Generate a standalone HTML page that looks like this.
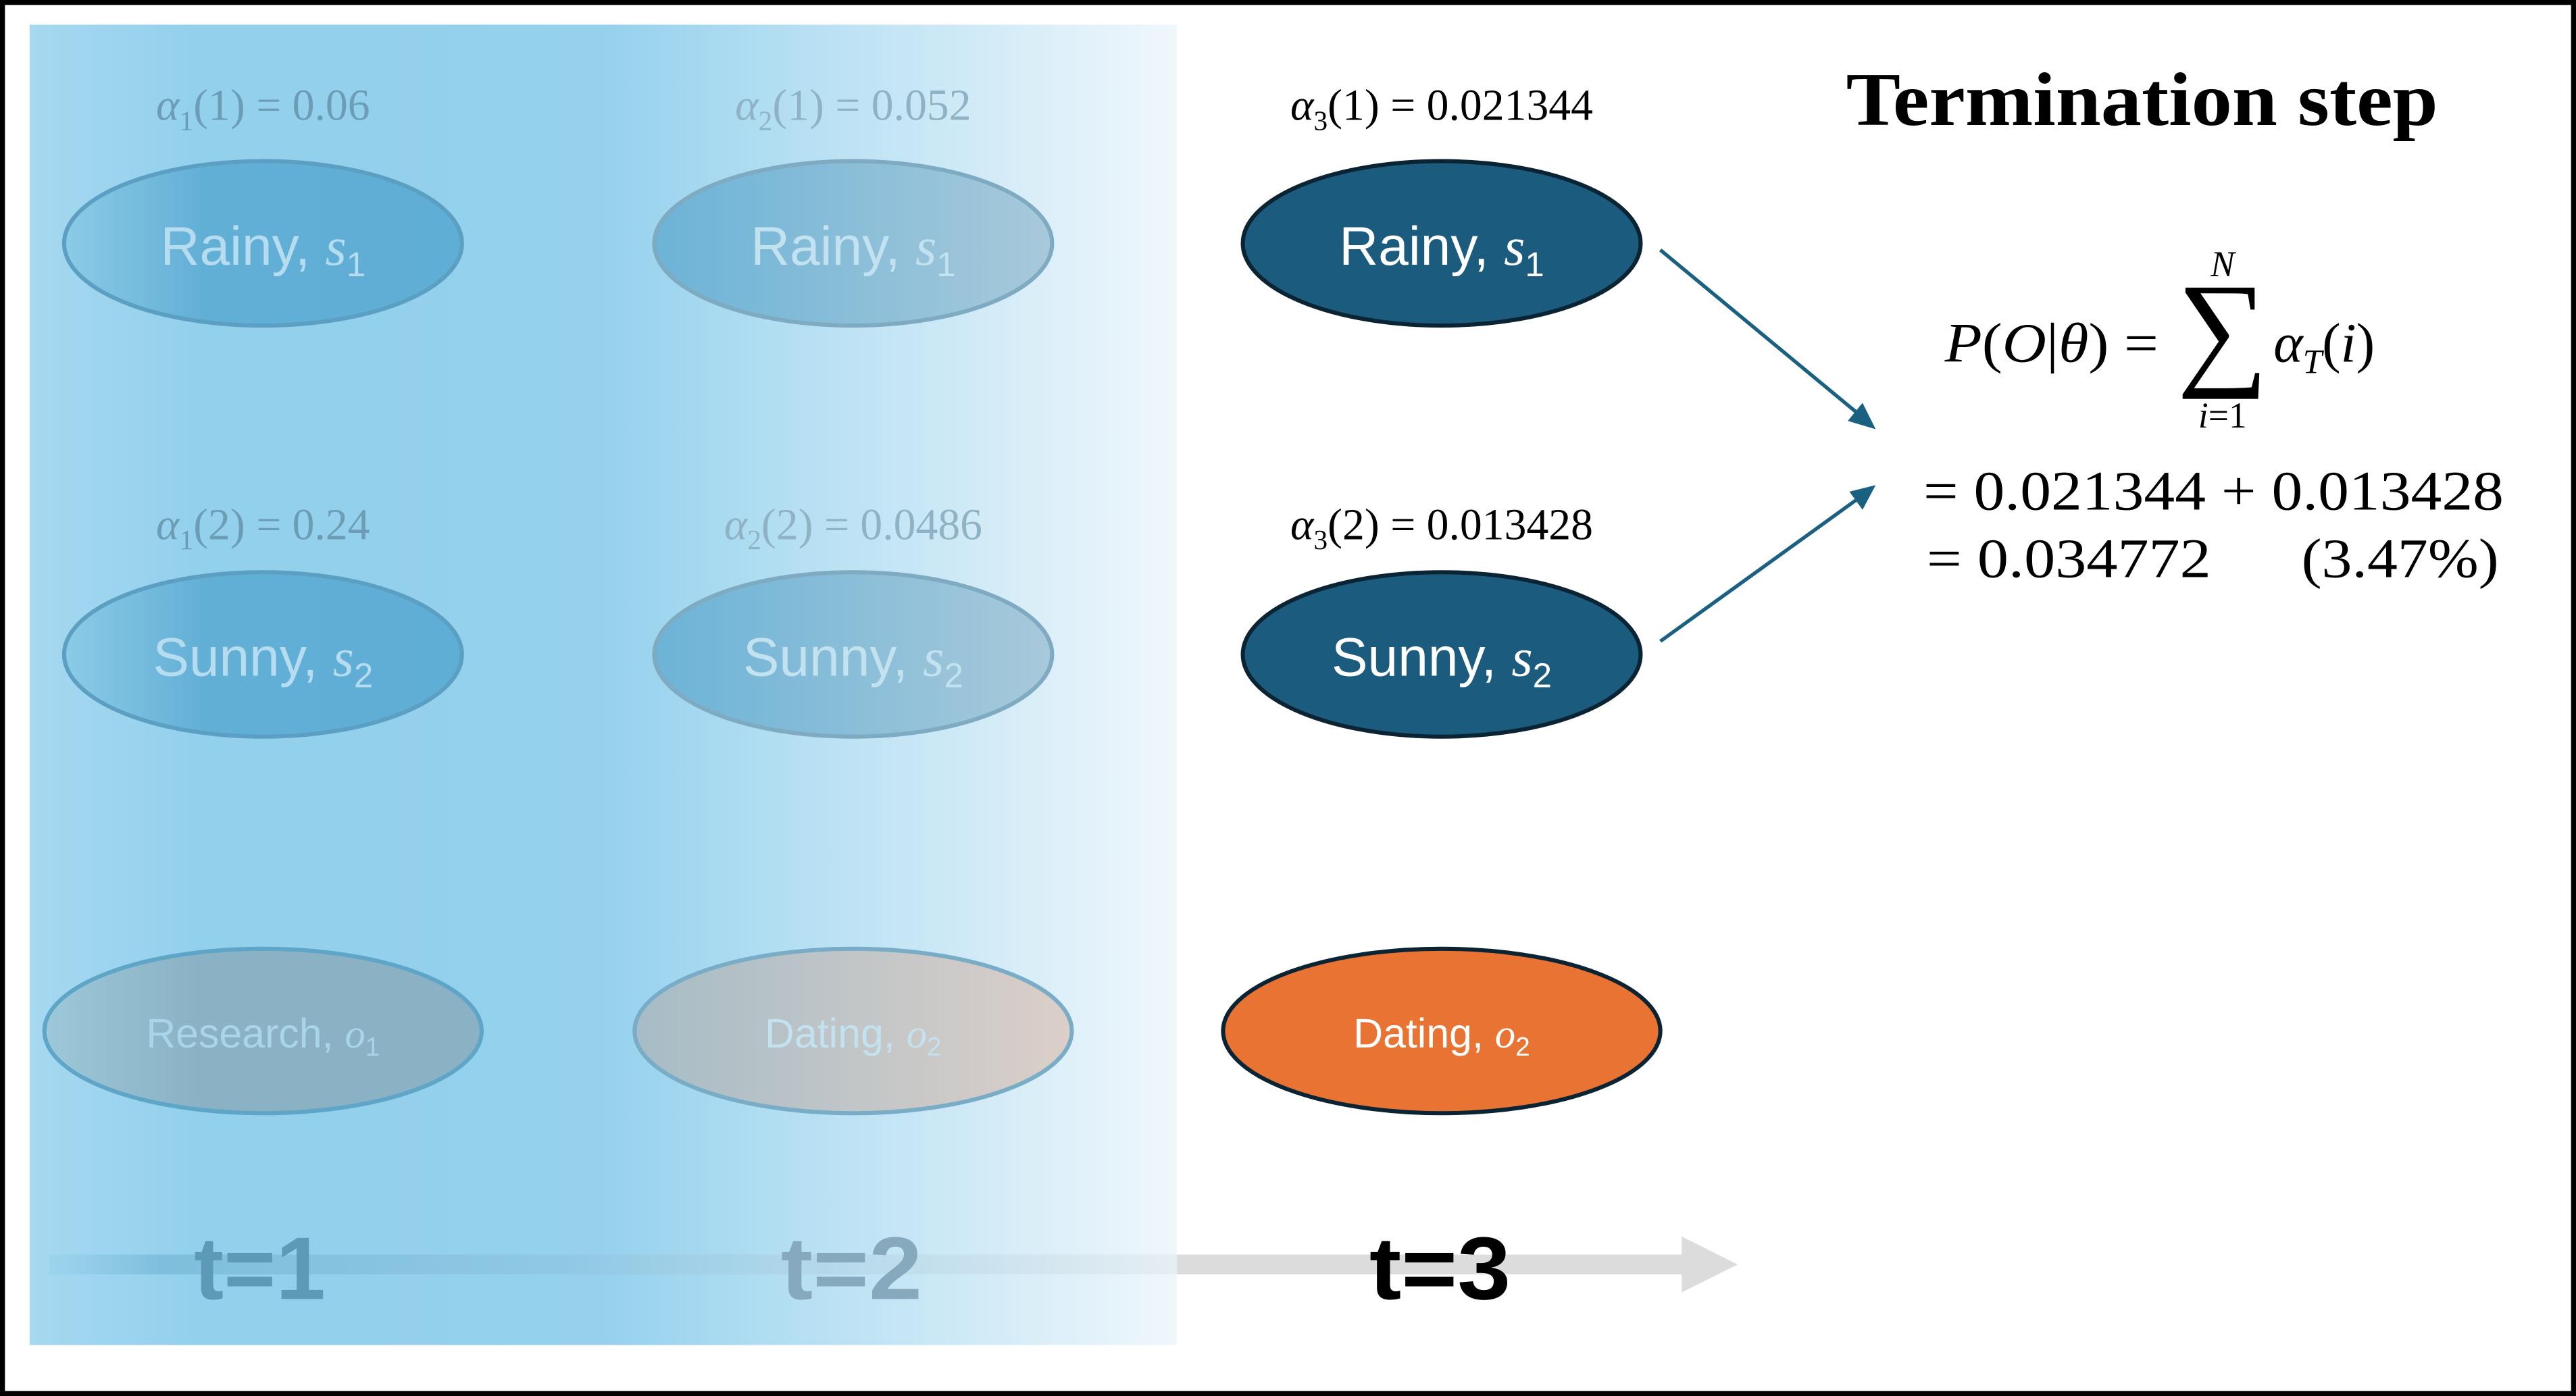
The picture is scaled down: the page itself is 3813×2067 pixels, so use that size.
<!DOCTYPE html>
<html><head><meta charset="utf-8"><style>
html,body{margin:0;padding:0;background:#fff;}
svg{display:block;}
.sans{font-family:"Liberation Sans","DejaVu Sans",sans-serif;}
.serif{font-family:"Liberation Serif","DejaVu Serif",serif;}
</style></head><body>
<svg width="3813" height="2067" viewBox="0 0 1567 849" preserveAspectRatio="none" xmlns="http://www.w3.org/2000/svg">
<defs>
<linearGradient id="bg" x1="0" x2="1" y1="0" y2="0">
<stop offset="0" stop-color="#a6d8f0"/><stop offset="0.15" stop-color="#92d0ec"/>
<stop offset="0.5" stop-color="#95d1ed"/><stop offset="0.65" stop-color="#b2def2"/>
<stop offset="1" stop-color="#f0f7fc"/></linearGradient>
<linearGradient id="e1" x1="0" x2="1"><stop offset="0" stop-color="#8ccbe6"/><stop offset="0.35" stop-color="#62afd6"/><stop offset="1" stop-color="#5faed5"/></linearGradient>
<linearGradient id="e2" x1="0" x2="1"><stop offset="0" stop-color="#6cb3d7"/><stop offset="1" stop-color="#a8c9da"/></linearGradient>
<linearGradient id="o1" x1="0" x2="1"><stop offset="0" stop-color="#9cc8da"/><stop offset="0.35" stop-color="#8ab2c4"/><stop offset="1" stop-color="#8ab2c4"/></linearGradient>
<linearGradient id="o2" x1="0" x2="1"><stop offset="0" stop-color="#a6bcc6"/><stop offset="1" stop-color="#dccfc8"/></linearGradient>
<linearGradient id="ar" x1="0" x2="1"><stop offset="0" stop-color="#8ccbe6" stop-opacity="0.3"/><stop offset="0.1" stop-color="#7fbedc"/><stop offset="0.45" stop-color="#8ec8e4"/><stop offset="1" stop-color="#e6eef3"/></linearGradient>
</defs>
<rect x="1.5" y="1.5" width="1564" height="846" fill="#fff" stroke="#000" stroke-width="3"/>
<rect x="18" y="15" width="698" height="803" fill="url(#bg)"/>
<rect x="30" y="763" width="686" height="12" fill="url(#ar)"/>
<rect x="716" y="763" width="309" height="12" fill="#dcdcdc"/>
<polygon points="1023,752 1057,769 1023,786" fill="#dcdcdc"/>
<g class="sans" font-weight="bold" font-size="54" text-anchor="middle">
<text x="158" y="790" fill="#5e9ab8" textLength="80" lengthAdjust="spacingAndGlyphs">t=1</text>
<text x="518" y="790" fill="#86a9bd" textLength="86" lengthAdjust="spacingAndGlyphs">t=2</text>
<text x="876" y="790" fill="#000" textLength="86" lengthAdjust="spacingAndGlyphs">t=3</text>
</g>
<g class="serif" font-size="27" text-anchor="middle">
<text x="160" y="73" fill="#6d9db5"><tspan font-style="italic">α</tspan><tspan font-size="17" dy="6">1</tspan><tspan dy="-6">(1) = 0.06</tspan></text>
<text x="519" y="73" fill="#8fb2c4"><tspan font-style="italic">α</tspan><tspan font-size="17" dy="6">2</tspan><tspan dy="-6">(1) = 0.052</tspan></text>
<text x="877" y="73" fill="#000"><tspan font-style="italic">α</tspan><tspan font-size="17" dy="6">3</tspan><tspan dy="-6">(1) = 0.021344</tspan></text>
<text x="160" y="328" fill="#6d9db5"><tspan font-style="italic">α</tspan><tspan font-size="17" dy="6">1</tspan><tspan dy="-6">(2) = 0.24</tspan></text>
<text x="519" y="328" fill="#8fb2c4"><tspan font-style="italic">α</tspan><tspan font-size="17" dy="6">2</tspan><tspan dy="-6">(2) = 0.0486</tspan></text>
<text x="877" y="328" fill="#000"><tspan font-style="italic">α</tspan><tspan font-size="17" dy="6">3</tspan><tspan dy="-6">(2) = 0.013428</tspan></text>
</g>
<g stroke-width="2.5">
<ellipse cx="160" cy="148" rx="121" ry="50" fill="url(#e1)" stroke="#5b9fc3"/>
<ellipse cx="519" cy="148" rx="121" ry="50" fill="url(#e2)" stroke="#7eaac2"/>
<ellipse cx="877" cy="148" rx="121" ry="50" fill="#1a5b7e" stroke="#0b2433"/>
<ellipse cx="160" cy="398" rx="121" ry="50" fill="url(#e1)" stroke="#5b9fc3"/>
<ellipse cx="519" cy="398" rx="121" ry="50" fill="url(#e2)" stroke="#7eaac2"/>
<ellipse cx="877" cy="398" rx="121" ry="50" fill="#1a5b7e" stroke="#0b2433"/>
<ellipse cx="160" cy="627" rx="133" ry="50" fill="url(#o1)" stroke="#5ea5c8"/>
<ellipse cx="519" cy="627" rx="133" ry="50" fill="url(#o2)" stroke="#79acc6"/>
<ellipse cx="877" cy="627" rx="133" ry="50" fill="#e97333" stroke="#0b2433"/>
</g>
<g class="sans" font-size="33" text-anchor="middle">
<text x="160" y="161" fill="#b5dcef">Rainy, <tspan class="serif" font-style="italic">s</tspan><tspan font-size="21" dy="7">1</tspan></text>
<text x="519" y="161" fill="#c3e2f0">Rainy, <tspan class="serif" font-style="italic">s</tspan><tspan font-size="21" dy="7">1</tspan></text>
<text x="877" y="161" fill="#fff">Rainy, <tspan class="serif" font-style="italic">s</tspan><tspan font-size="21" dy="7">1</tspan></text>
<text x="160" y="411" fill="#b5dcef">Sunny, <tspan class="serif" font-style="italic">s</tspan><tspan font-size="21" dy="7">2</tspan></text>
<text x="519" y="411" fill="#c3e2f0">Sunny, <tspan class="serif" font-style="italic">s</tspan><tspan font-size="21" dy="7">2</tspan></text>
<text x="877" y="411" fill="#fff">Sunny, <tspan class="serif" font-style="italic">s</tspan><tspan font-size="21" dy="7">2</tspan></text>
</g>
<g class="sans" font-size="25" text-anchor="middle">
<text x="160" y="637" fill="#a8d5ea">Research, <tspan class="serif" font-style="italic">o</tspan><tspan font-size="16" dy="5">1</tspan></text>
<text x="519" y="637" fill="#c3e2f0">Dating, <tspan class="serif" font-style="italic">o</tspan><tspan font-size="16" dy="5">2</tspan></text>
<text x="877" y="637" fill="#fff">Dating, <tspan class="serif" font-style="italic">o</tspan><tspan font-size="16" dy="5">2</tspan></text>
</g>
<g stroke="#1a6080" stroke-width="2.2" fill="#1a6080">
<line x1="1010" y1="152" x2="1132" y2="253"/>
<polygon points="1141,261 1124,256 1133,245" stroke="none"/>
<line x1="1010" y1="390" x2="1132" y2="302"/>
<polygon points="1141,295 1133,310 1125,299" stroke="none"/>
</g>
<text x="1123" y="76" class="serif" font-weight="bold" font-size="46" textLength="360" lengthAdjust="spacingAndGlyphs" fill="#000">Termination step</text>
<g class="serif" fill="#000">
<text x="1183" y="220" font-size="34" textLength="130" lengthAdjust="spacingAndGlyphs"><tspan font-style="italic">P</tspan>(<tspan font-style="italic">O</tspan>|<tspan font-style="italic">θ</tspan>) =</text>
<text x="1352" y="226" font-size="78" text-anchor="middle">∑</text>
<text x="1352" y="168" font-size="22" font-style="italic" text-anchor="middle">N</text>
<text x="1352" y="260" font-size="22" text-anchor="middle"><tspan font-style="italic">i</tspan>=1</text>
<text x="1383" y="220" font-size="34"><tspan font-style="italic">α</tspan><tspan font-size="21" font-style="italic" dy="7">T</tspan><tspan dy="-7">(</tspan><tspan font-style="italic">i</tspan>)</text>
<text x="1170" y="310" font-size="34" textLength="353" lengthAdjust="spacingAndGlyphs">= 0.021344 + 0.013428</text>
<text x="1172" y="351" font-size="34" textLength="173" lengthAdjust="spacingAndGlyphs">= 0.034772</text>
<text x="1400" y="351" font-size="34" textLength="120" lengthAdjust="spacingAndGlyphs">(3.47%)</text>
</g>
</svg>
</body></html>
